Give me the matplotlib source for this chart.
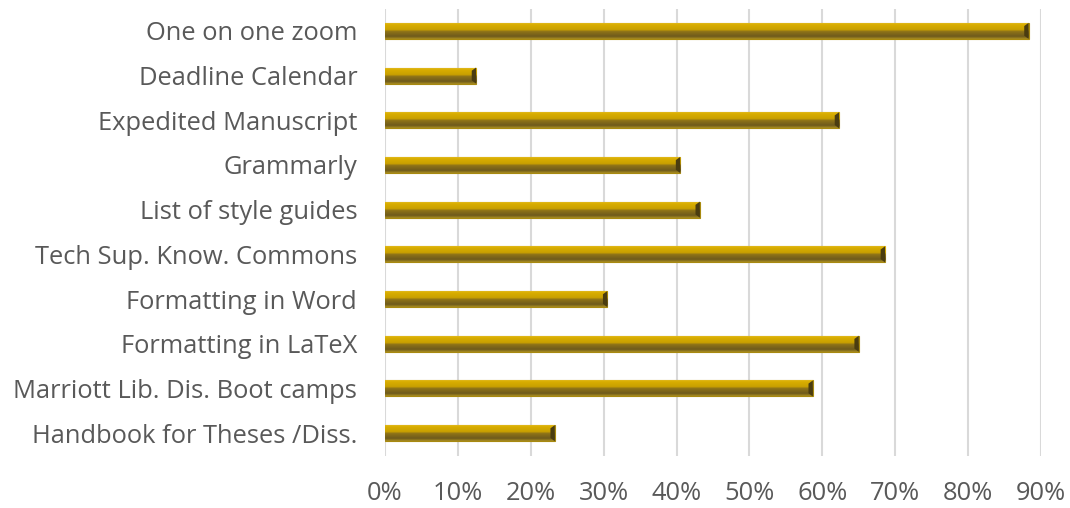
import numpy as np
import matplotlib
matplotlib.use("Agg")
import matplotlib.pyplot as plt
from matplotlib.colors import LinearSegmentedColormap

categories = ["Handbook for Theses /Diss.", "Marriott Lib. Dis. Boot camps", "Formatting in LaTeX",
              "Formatting in Word", "Tech Sup. Know. Commons", "List of style guides",
              "Grammarly", "Expedited Manuscript", "Deadline Calendar", "One on one zoom"]
values = [0.233, 0.587, 0.650, 0.305, 0.686, 0.432, 0.405, 0.623, 0.125, 0.883]
xticks = [0, 0.1, 0.2, 0.3, 0.4, 0.5, 0.6, 0.7, 0.8, 0.9]
xticklabels = ["0%", "10%", "20%", "30%", "40%", "50%", "60%", "70%", "80%", "90%"]

plt.rcParams['font.family'] = ['Open Sans', 'DejaVu Sans']
fig = plt.figure(figsize=(10.7, 5.08), dpi=100)
ax = fig.add_axes([385/1070, 1-455.5/508, (1041-385)/1070, 447/508])

y = np.arange(len(categories))
bars = ax.barh(y, values, height=0.36, color='#C9A000', edgecolor='#A88A10', linewidth=0.8, zorder=3)

cmap = LinearSegmentedColormap.from_list('bevel', [
    (0.0, '#E6BE30'), (0.15, '#D9AE00'), (0.45, '#C9A000'),
    (0.55, '#8F7418'), (0.85, '#6E5A1C'), (1.0, '#A88C20')])
grad = np.linspace(0, 1, 64).reshape(-1, 1)
for b in bars:
    x0, y0 = b.get_x(), b.get_y()
    w, h = b.get_width(), b.get_height()
    im = ax.imshow(grad, cmap=cmap, aspect='auto', extent=[x0, x0 + w, y0, y0 + h],
                   origin='upper', zorder=3.5)
    im.set_clip_path(b)
    ax.fill([x0 + w - 0.006, x0 + w, x0 + w, x0 + w - 0.006],
            [y0 + h*0.2, y0, y0 + h, y0 + h*0.8], color='#4A3C10', zorder=3.6, lw=0)

ax.set_xlim(0, 0.9)
ax.set_ylim(-0.5, len(categories) - 0.5)
ax.set_xticks(xticks)
ax.set_xticklabels(xticklabels)
ax.set_yticks(y)
ax.set_yticklabels(categories)
ax.grid(axis='x', color='#D9D9D9', linewidth=1.5, zorder=0)
ax.set_axisbelow(True)
for s in ax.spines.values():
    s.set_visible(False)
ax.tick_params(axis='both', length=0, labelsize=18.4, colors='#595959')
ax.tick_params(axis='y', pad=20)
ax.tick_params(axis='x', pad=18)

fig.savefig('out.png', dpi=100)
